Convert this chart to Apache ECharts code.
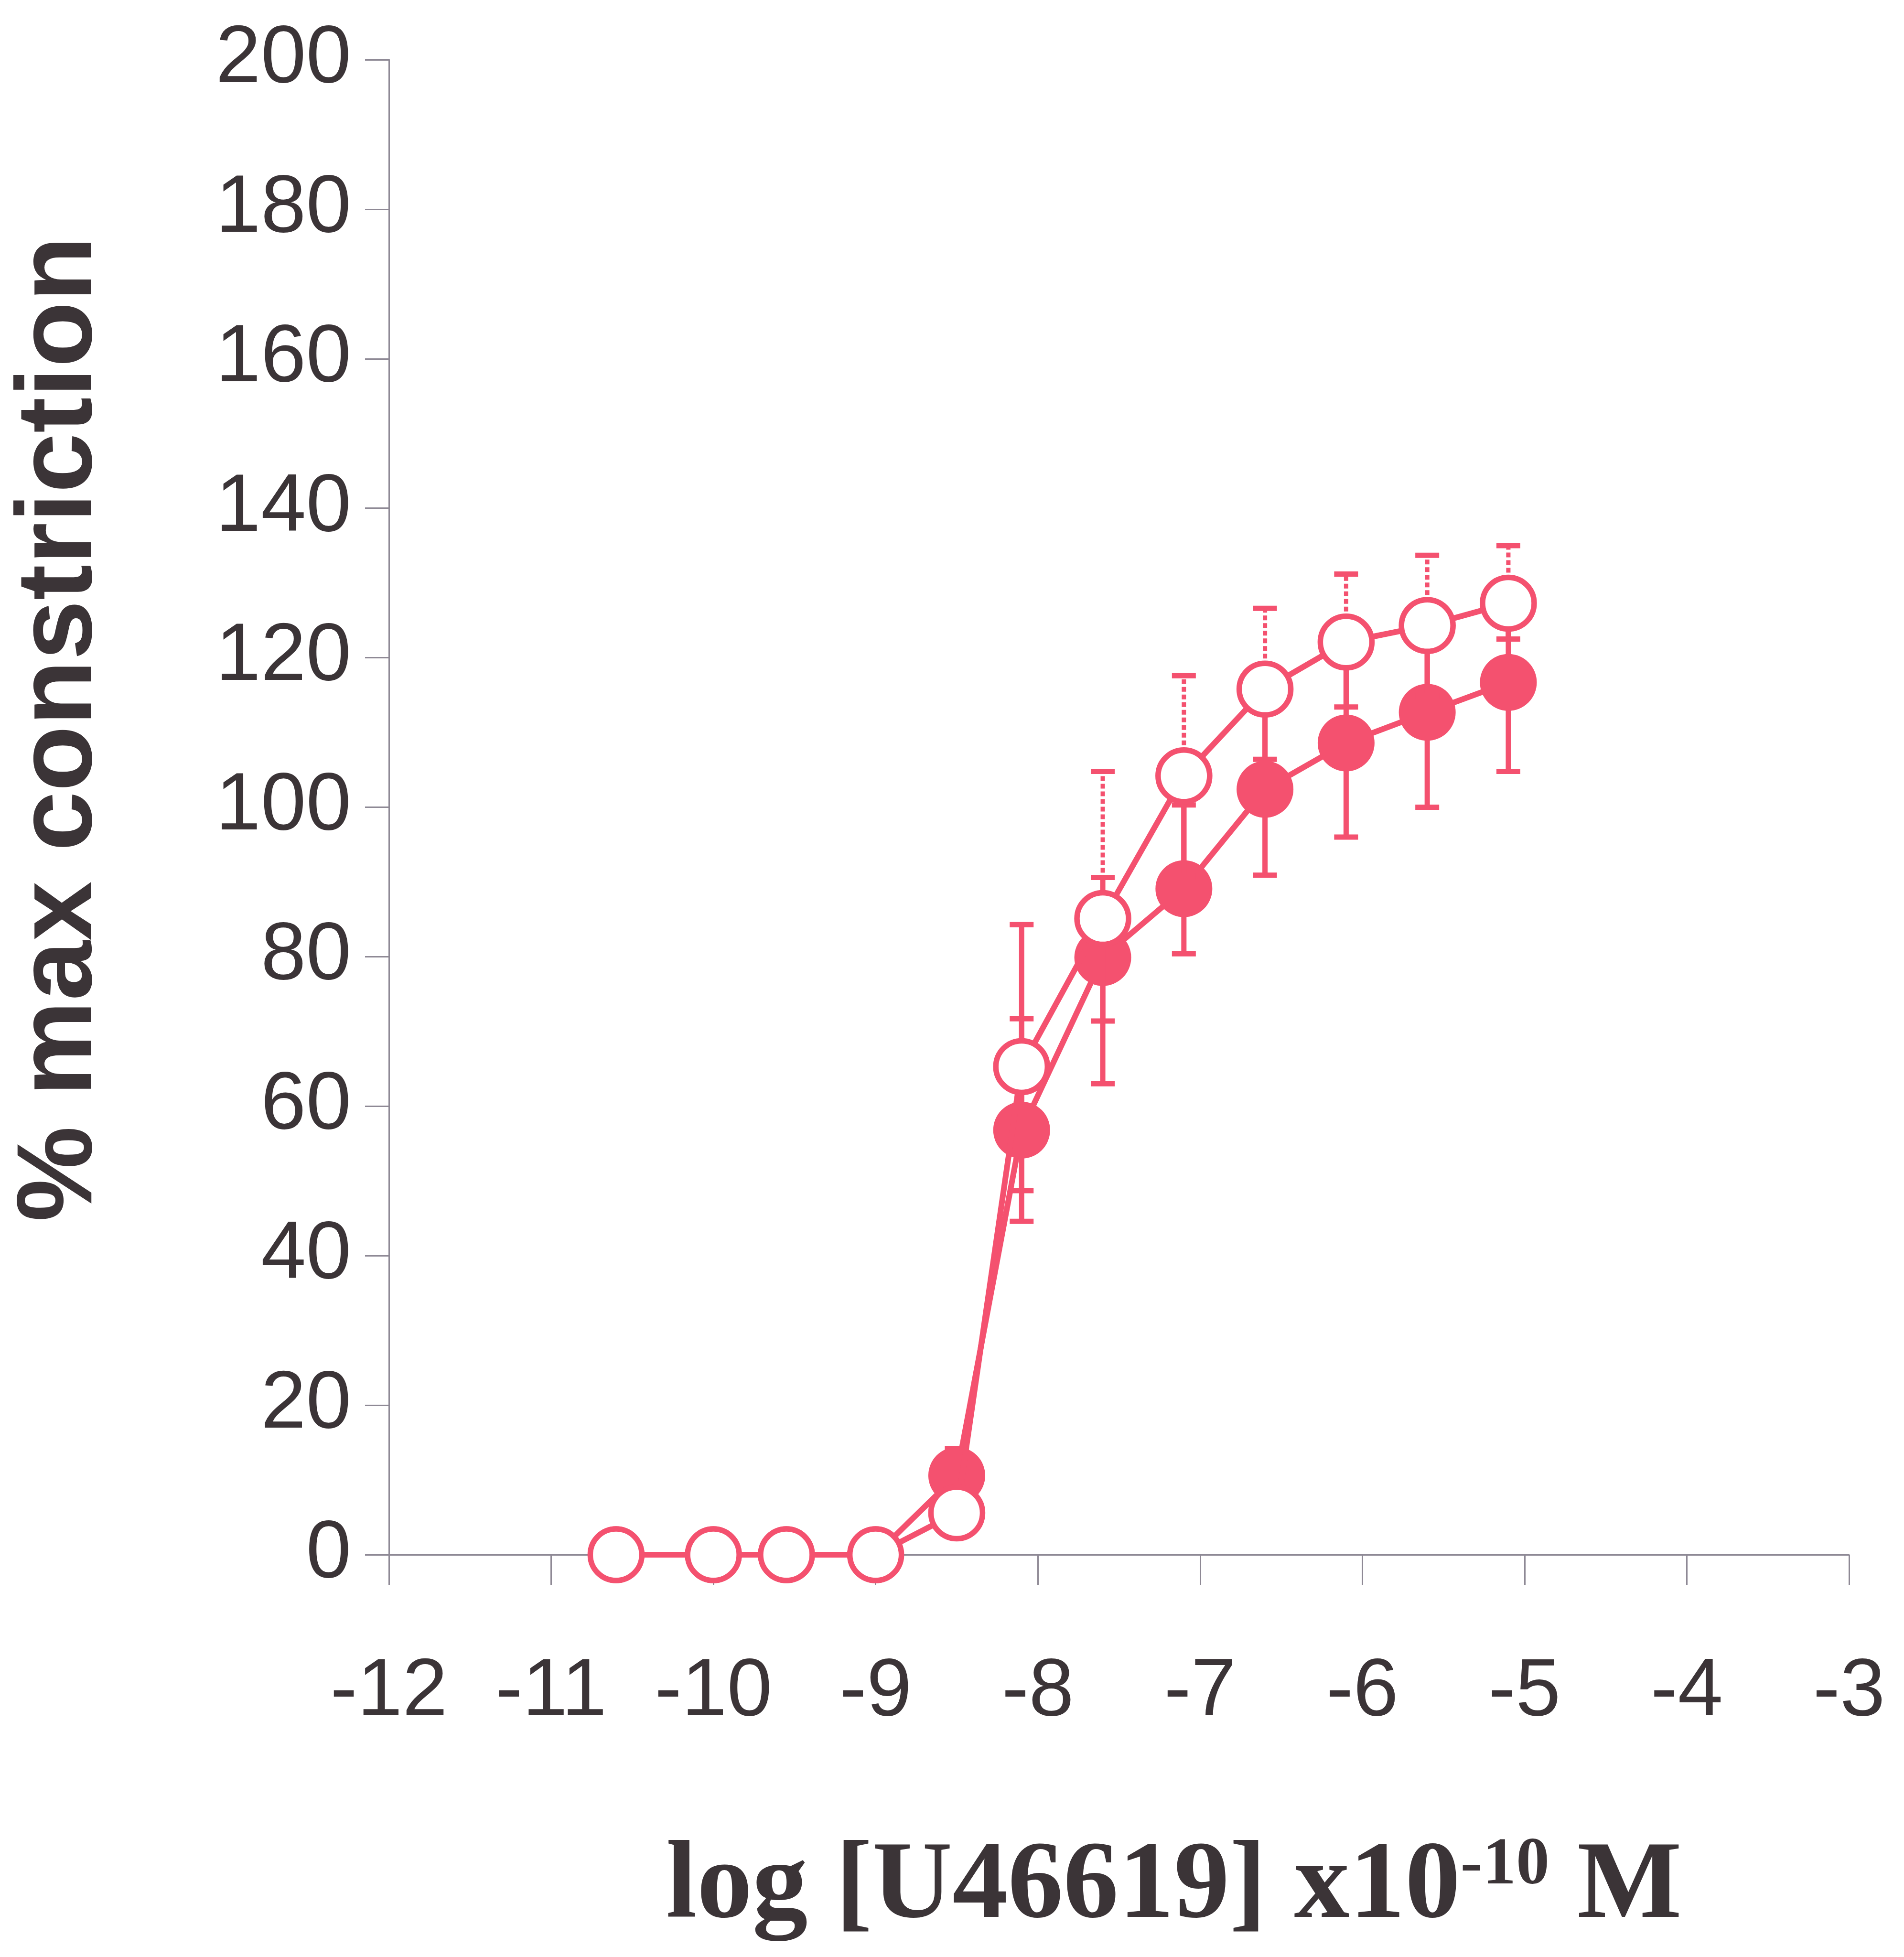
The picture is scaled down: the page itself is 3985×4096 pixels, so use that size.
<!DOCTYPE html>
<html>
<head>
<meta charset="utf-8">
<script src="https://cdn.jsdelivr.net/npm/echarts@6/dist/echarts.min.js"></script>
<style>
  html, body { margin: 0; padding: 0; background: #ffffff; }
  #chart { width: 3985px; height: 4096px; }
</style>
</head>
<body>
<div id="chart"></div>
<script>
// ---- data ----
const xLog = [-10.6, -10.0, -9.55, -9.0, -8.5, -8.1, -7.6, -7.1, -6.6, -6.1, -5.6, -5.1];
const openMean   = [0, 0, 0, 0, 5.6, 65.3, 85.1, 104.2, 115.8, 122.1, 124.3, 127.3];
const openLow    = [null, null, null, null, null, 48.7, 71.4, 90.8, 106.4, 113.4, 114.9, 122.5];
const openHigh   = [null, null, null, null, null, 84.3, 104.8, 117.6, 126.6, 131.2, 133.7, 135.0];
const filledMean = [0, 0, 0, 0, 10.6, 56.8, 79.9, 89.1, 102.4, 108.6, 112.7, 116.7];
const filledLow  = [null, null, null, null, 7.0, 44.6, 63.0, 80.4, 90.9, 96.0, 100.0, 104.8];
const filledHigh = [null, null, null, null, 14.2, 71.7, 90.6, 100.3, 113.9, 121.2, 125.4, 128.6];
const yAxisTitle = '% max constriction';
const xAxisTitle = 'log [U46619] x10{sup|-10} M';

// ---- styling ----
const PINK = '#f4516f';
const TEXT = '#3b3437';
const AXIS = '#8e8995';

function errData(mean, low, high) {
  const out = [];
  for (let i = 0; i < xLog.length; i++) {
    if (low[i] == null && high[i] == null) continue;
    out.push([xLog[i], mean[i], low[i] == null ? mean[i] : low[i], high[i] == null ? mean[i] : high[i]]);
  }
  return out;
}

function makeErrRender(dottedUpper) {
  return function (params, api) {
    const x = api.value(0), m = api.value(1), lo = api.value(2), hi = api.value(3);
    const pm = api.coord([x, m]);
    const pl = api.coord([x, lo]);
    const ph = api.coord([x, hi]);
    const hw = 25;
    const solid = { stroke: PINK, lineWidth: 11 };
    const upStyle = (dottedUpper && x > -8) ? { stroke: PINK, lineWidth: 9, lineDash: [10, 6] } : solid;
    return {
      type: 'group',
      children: [
        { type: 'line', shape: { x1: pm[0], y1: pm[1], x2: pl[0], y2: pl[1] }, style: solid },
        { type: 'line', shape: { x1: pl[0] - hw, y1: pl[1], x2: pl[0] + hw, y2: pl[1] }, style: solid },
        { type: 'line', shape: { x1: pm[0], y1: pm[1], x2: ph[0], y2: ph[1] }, style: upStyle },
        { type: 'line', shape: { x1: ph[0] - hw, y1: ph[1], x2: ph[0] + hw, y2: ph[1] }, style: solid }
      ]
    };
  };
}

const chart = echarts.init(document.getElementById('chart'), null, { renderer: 'canvas' });
chart.setOption({
  animation: false,
  backgroundColor: '#ffffff',
  grid: { left: 814, right: 115, top: 125, bottom: 842, containLabel: false, outerBoundsMode: 'none' },
  xAxis: {
    type: 'value', min: -12, max: -3, interval: 1,
    axisLine: { show: true, onZero: false, lineStyle: { color: AXIS, width: 3 } },
    axisTick: { show: true, length: 63, lineStyle: { color: AXIS, width: 3 } },
    axisLabel: { margin: 204, fontSize: 170, color: TEXT, fontFamily: 'Liberation Sans' },
    splitLine: { show: false },
    name: xAxisTitle,
    nameLocation: 'middle',
    nameGap: 582,
    nameTextStyle: {
      fontFamily: 'Liberation Serif', fontWeight: 'bold', fontSize: 232, color: TEXT,
      padding: [0, 0, 0, 230],
      rich: {
        sup: { fontFamily: 'Liberation Serif', fontWeight: 'bold', fontSize: 140, color: TEXT, verticalAlign: 'top' }
      }
    }
  },
  yAxis: {
    type: 'value', min: 0, max: 200, interval: 20,
    axisLine: { show: true, lineStyle: { color: AXIS, width: 3 } },
    axisTick: { show: true, length: 50, lineStyle: { color: AXIS, width: 3 } },
    axisLabel: { margin: 79, fontSize: 170, color: TEXT, fontFamily: 'Liberation Sans' },
    splitLine: { show: false },
    name: yAxisTitle,
    nameLocation: 'middle',
    nameRotate: 90,
    nameGap: 573,
    nameTextStyle: {
      fontFamily: 'Liberation Sans', fontWeight: 'bold', fontSize: 225, color: TEXT,
      padding: [0, 0, 0, 328]
    }
  },
  series: [
    {
      name: 'filledErr', type: 'custom', z: 2,
      data: errData(filledMean, filledLow, filledHigh),
      renderItem: makeErrRender(false),
      encode: { x: 0, y: [1, 2, 3] }
    },
    {
      name: 'filled', type: 'line', z: 3,
      data: xLog.map((x, i) => [x, filledMean[i]]),
      symbol: 'circle', symbolSize: 119, showAllSymbol: true,
      itemStyle: { color: PINK, borderWidth: 0 },
      lineStyle: { color: PINK, width: 12 }
    },
    {
      name: 'openErr', type: 'custom', z: 4,
      data: errData(openMean, openLow, openHigh),
      renderItem: makeErrRender(true),
      encode: { x: 0, y: [1, 2, 3] }
    },
    {
      name: 'open', type: 'line', z: 5,
      data: xLog.map((x, i) => [x, openMean[i]]),
      symbol: 'circle', symbolSize: 108, showAllSymbol: true,
      itemStyle: { color: '#ffffff', borderColor: PINK, borderWidth: 11.5 },
      lineStyle: { color: PINK, width: 12 }
    }
  ]
});
</script>
</body>
</html>
